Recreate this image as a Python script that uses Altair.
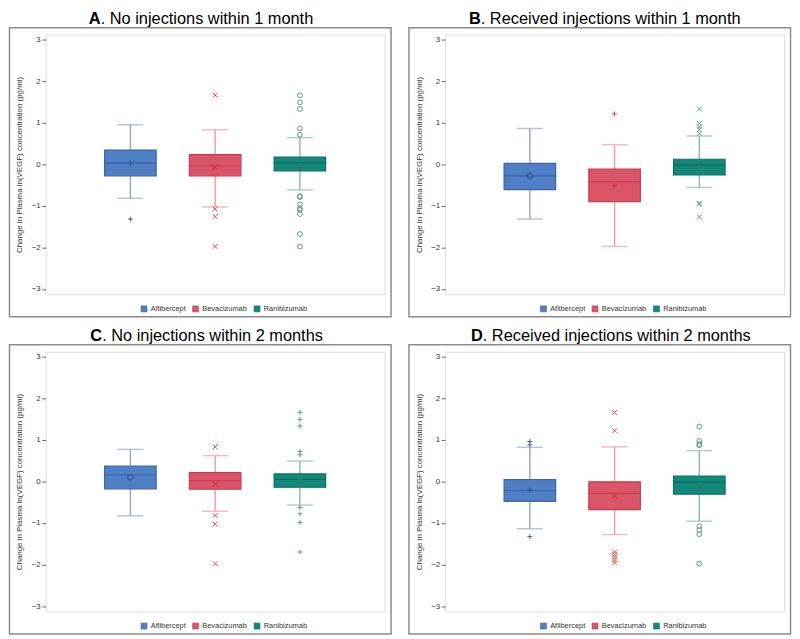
import altair as alt
import pandas as pd

# ---------------- data ----------------
drugs = ["Aflibercept", "Bevacizumab", "Ranibizumab"]
letters = ["A", "B", "C", "D"]
subtitles = [
    ". No injections within 1 month",
    ". Received injections within 1 month",
    ". No injections within 2 months",
    ". Received injections within 2 months",
]
y_title = "Change in Plasma ln(VEGF) concentration (pg/ml)"
y_ticks = [-3, -2, -1, 0, 1, 2, 3]

# per panel (A, B, C, D), per drug (Aflibercept, Bevacizumab, Ranibizumab)
q1_vals = [[-0.28, -0.28, -0.16], [-0.61, -0.90, -0.26], [-0.18, -0.19, -0.14], [-0.48, -0.68, -0.31]]
median_vals = [[0.03, -0.04, 0.03], [-0.28, -0.42, -0.02], [0.16, 0.02, 0.05], [-0.22, -0.29, -0.02]]
q3_vals = [[0.34, 0.23, 0.17], [0.02, -0.12, 0.12], [0.37, 0.21, 0.18], [0.04, -0.01, 0.13]]
whisker_low = [[-0.82, -1.03, -0.62], [-1.32, -1.98, -0.56], [-0.83, -0.72, -0.57], [-1.14, -1.28, -0.96]]
whisker_high = [[0.95, 0.83, 0.64], [0.86, 0.47, 0.68], [0.77, 0.62, 0.49], [0.82, 0.83, 0.74]]
mean_vals = [[0.03, -0.07, -0.04], [-0.28, -0.51, -0.02], [0.10, -0.06, 0.05], [-0.21, -0.35, -0.09]]

outliers_A = [[-1.32],
              [1.66, -1.08, -1.26, -1.98],
              [1.66, 1.49, 1.33, 0.86, 0.71, -0.77, -0.79, -0.97, -1.06, -1.10, -1.20, -1.68, -1.98]]
outliers_B = [[],
              [1.21],
              [1.33, 0.98, 0.90, 0.83, 0.74, -0.94, -0.96, -1.27]]
outliers_C = [[],
              [0.83, -0.82, -1.03, -1.98],
              [1.66, 1.49, 1.33, 0.72, 0.64, -0.63, -0.78, -0.99, -1.70]]
outliers_D = [[0.96, 0.88, -1.33],
              [1.66, 1.22, -1.70, -1.76, -1.82, -1.89, -1.96],
              [1.32, 0.97, 0.90, 0.87, -1.08, -1.17, -1.27, -1.98]]
outliers = [outliers_A, outliers_B, outliers_C, outliers_D]

markers = [["plus", "x", "circle"], ["circle", "plus", "x"],
           ["circle", "x", "plus"], ["plus", "x", "circle"]]

# ---------------- style ----------------
FONT = "Liberation Sans"
W, H = 342, 262
SHAPES = {"plus": "M-1,0L1,0M0,-1L0,1", "x": "M-1,-1L1,1M-1,1L1,-1", "circle": "circle"}
fill_colors = ["#4f7fc4", "#db5569", "#13897b"]
border_colors = ["#3d64a6", "#cd3a4e", "#0c7063"]
median_colors = ["#37588f", "#c23346", "#0b5e53"]
whisker_colors = ["#98aac8", "#f0a0a3", "#8cbf9f"]
mean_colors = ["#34558c", "#d0343f", "#2d7a5e"]
outlier_colors = ["#3e5d8f", "#e34b4b", "#5c9c7c"]
title_split = [55.5, 36, 57, 38]
SUFFIX = " (marker)"


def cscale(rng, dom=None):
    return alt.Scale(domain=dom or drugs, range=rng)


def panel(i):
    stats = pd.DataFrame({
        "drug": drugs, "q1": q1_vals[i], "med": median_vals[i], "q3": q3_vals[i],
        "wlo": whisker_low[i], "whi": whisker_high[i], "mean": mean_vals[i],
    })
    rows = [(d, v) for d, vals in zip(drugs, outliers[i]) for v in vals]
    outl = pd.DataFrame(rows, columns=["drug", "value"])
    tdf = pd.DataFrame({"letter": [letters[i]], "rest": [subtitles[i]]})

    x = alt.X("drug:N", scale=alt.Scale(type="point", domain=drugs, padding=1), axis=None)
    yscale = alt.Scale(domain=[-3.13, 3.12], nice=False, zero=False)
    yaxis = alt.Axis(values=y_ticks, title=y_title, domain=False, grid=False,
                     tickSize=4, tickColor="#666666", tickWidth=1,
                     labelFontSize=8, labelFont=FONT, labelColor="#333333", labelPadding=1.5,
                     titleFontSize=8, titleFont=FONT, titleColor="#333333", titleFontWeight="normal",
                     titleX=-26, titleY=H / 2, titleAngle=-90, titleAlign="center",
                     titleBaseline="middle")

    def Y(f):
        return alt.Y(f, type="quantitative", scale=yscale, axis=yaxis)

    mdom = [d + SUFFIX for d in drugs]
    shape = alt.Shape("grp:N", scale=alt.Scale(domain=mdom, range=[SHAPES[s] for s in markers[i]]),
                      legend=None)

    frame = alt.Chart(tdf).mark_rect(fill="white", fillOpacity=0, stroke="#8c8c8c", strokeWidth=1.5).encode(
        x=alt.value(-36.5), x2=alt.value(W + 6.5), y=alt.value(-7), y2=alt.value(H + 22.7))

    base = alt.Chart(stats)
    wc = alt.Color("drug:N", scale=cscale(whisker_colors), legend=None)
    whisk = base.mark_rule(strokeWidth=1.5).encode(x=x, y=Y("wlo"), y2="whi:Q", color=wc)
    cap_lo = base.mark_tick(size=26, thickness=1.5).encode(x=x, y=Y("wlo"), color=wc)
    cap_hi = base.mark_tick(size=26, thickness=1.5).encode(x=x, y=Y("whi"), color=wc)
    box = base.mark_bar(width=52, strokeWidth=1.2, opacity=1).encode(
        x=x, y=Y("q1"), y2="q3:Q",
        fill=alt.Fill("drug:N", scale=cscale(fill_colors),
                      legend=alt.Legend(orient="none", legendX=95.5, legendY=H + 11, direction="horizontal",
                                        title=None, symbolType="square", symbolSize=36,
                                        symbolStrokeColor="#444444", symbolStrokeWidth=0.6,
                                        labelFontSize=7.5, labelFont=FONT, labelColor="#333333",
                                        labelOffset=3, columnPadding=5, padding=0)),
        stroke=alt.Stroke("drug:N", scale=cscale(border_colors), legend=None))
    med = base.mark_tick(size=52, thickness=1.2).encode(
        x=x, y=Y("med"), color=alt.Color("drug:N", scale=cscale(median_colors), legend=None))
    mean = base.transform_calculate(grp=f"datum.drug + '{SUFFIX}'").mark_point(
        size=30, filled=False, strokeWidth=1.2, opacity=1).encode(
        x=x, y=Y("mean"), shape=shape,
        color=alt.Color("grp:N", scale=cscale(mean_colors, mdom), legend=None))
    outp = alt.Chart(outl).transform_calculate(grp=f"datum.drug + '{SUFFIX}'").mark_point(
        size=24, filled=False, strokeWidth=1, opacity=1).encode(
        x=x, y=Y("value"), shape=shape,
        color=alt.Color("grp:N", scale=cscale(outlier_colors, mdom), legend=None))

    t1 = alt.Chart(tdf).mark_text(align="right", baseline="bottom", fontSize=16.5, fontWeight="bold",
                                  font=FONT, color="black").encode(
        x=alt.value(title_split[i]), y=alt.value(-7.5), text="letter:N")
    t2 = alt.Chart(tdf).mark_text(align="left", baseline="bottom", fontSize=16.5, fontWeight="normal",
                                  font=FONT, color="black").encode(
        x=alt.value(title_split[i]), y=alt.value(-7.5), text="rest:N")

    return alt.layer(frame, whisk, cap_lo, cap_hi, box, med, mean, outp, t1, t2).resolve_scale(
        color="independent").properties(width=W, height=H)


chart = alt.concat(panel(0), panel(1), panel(2), panel(3), columns=2,
                   spacing=alt.RowColnumber(row=58, column=61), bounds="flush", padding=0,
                   background="white").resolve_scale(
    fill="independent", stroke="independent", color="independent", shape="independent").resolve_legend(
    fill="independent").configure_view(stroke="#7a7a7a", strokeWidth=1.5).configure(font=FONT)

chart.save("out.html", embed_options={"renderer": "svg", "actions": False})
